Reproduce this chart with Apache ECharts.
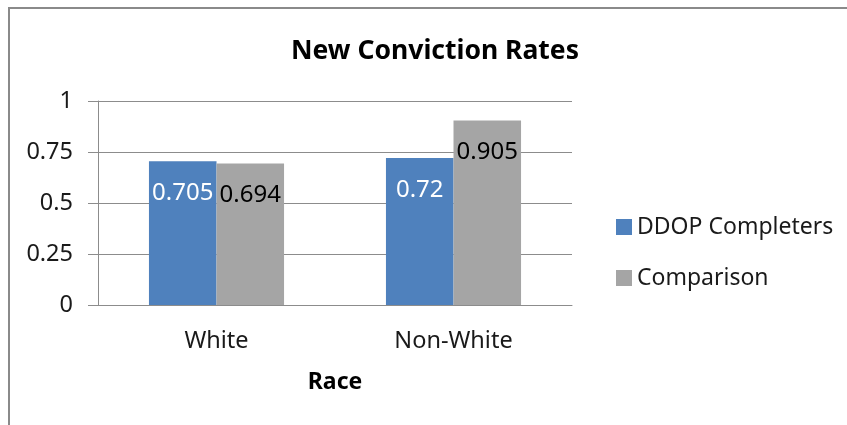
<!DOCTYPE html>
<html>
<head>
<meta charset="utf-8">
<title>New Conviction Rates</title>
<script src="https://cdn.jsdelivr.net/npm/echarts@6/dist/echarts.min.js"></script>
<style>
  html, body { margin: 0; padding: 0; background: #ffffff; }
  #chart { width: 847px; height: 425px; }
</style>
</head>
<body>
<div id="chart"></div>
<script>
// Conviction rates by race group
const categories = ['White', 'Non-White'];
const seriesNames = ['DDOP Completers', 'Comparison'];
const ddopCompleters = [0.705, 0.72];
const comparison = [0.694, 0.905];
const yTicks = { min: 0, max: 1, interval: 0.25 };

const FONT = '"Noto Sans", "Open Sans", sans-serif';
const GRID_COLOR = '#8c8c8c';

const chart = echarts.init(document.getElementById('chart'), null, { renderer: 'canvas' });

chart.setOption({
  backgroundColor: '#ffffff',
  animation: false,
  textStyle: { fontFamily: FONT },
  graphic: [{
    // outer chart-area frame
    type: 'rect',
    shape: { x: 9, y: 8, width: 860, height: 440 },
    style: { fill: 'none', stroke: '#8a8a8a', lineWidth: 2 },
    silent: true
  }],
  title: {
    text: 'New Conviction Rates',
    left: 430,
    textAlign: 'center',
    top: 33,
    textStyle: { fontFamily: FONT, fontWeight: 'bold', fontSize: 26.5, color: '#000000' }
  },
  legend: {
    orient: 'vertical',
    left: 616,
    top: 214,
    padding: 0,
    itemWidth: 16,
    itemHeight: 16,
    itemGap: 25,
    icon: 'rect',
    data: seriesNames,
    textStyle: { fontFamily: FONT, fontSize: 23, color: '#1a1a1a', lineHeight: 26 }
  },
  grid: { left: 98, right: 275, top: 101, bottom: 120, containLabel: false },
  xAxis: {
    type: 'category',
    data: categories,
    name: 'Race',
    nameLocation: 'middle',
    nameGap: 66,
    nameTextStyle: { fontFamily: FONT, fontWeight: 'bold', fontSize: 23, color: '#000000' },
    axisLine: { show: true, lineStyle: { color: GRID_COLOR, width: 1 } },
    axisTick: { show: false },
    axisLabel: { fontFamily: FONT, fontSize: 23.5, color: '#1a1a1a', margin: 24 }
  },
  yAxis: {
    type: 'value',
    min: yTicks.min,
    max: yTicks.max,
    interval: yTicks.interval,
    axisLine: { show: true, lineStyle: { color: GRID_COLOR, width: 1 } },
    axisTick: { show: true, length: 10, lineStyle: { color: GRID_COLOR } },
    splitLine: { show: true, lineStyle: { color: GRID_COLOR, width: 1 } },
    axisLabel: { fontFamily: FONT, fontSize: 23.5, color: '#1a1a1a', margin: 25 }
  },
  series: [
    {
      name: seriesNames[0],
      type: 'bar',
      data: ddopCompleters,
      barGap: '0%',
      barCategoryGap: '43%',
      itemStyle: { color: '#4f81bd' },
      label: {
        show: true,
        position: 'insideTop',
        distance: 20,
        fontFamily: FONT,
        fontSize: 24,
        color: '#ffffff'
      }
    },
    {
      name: seriesNames[1],
      type: 'bar',
      data: comparison,
      barGap: '0%',
      barCategoryGap: '43%',
      itemStyle: { color: '#a5a5a5' },
      label: {
        show: true,
        position: 'insideTop',
        distance: 20,
        fontFamily: FONT,
        fontSize: 24,
        color: '#000000'
      }
    }
  ]
});
</script>
</body>
</html>
